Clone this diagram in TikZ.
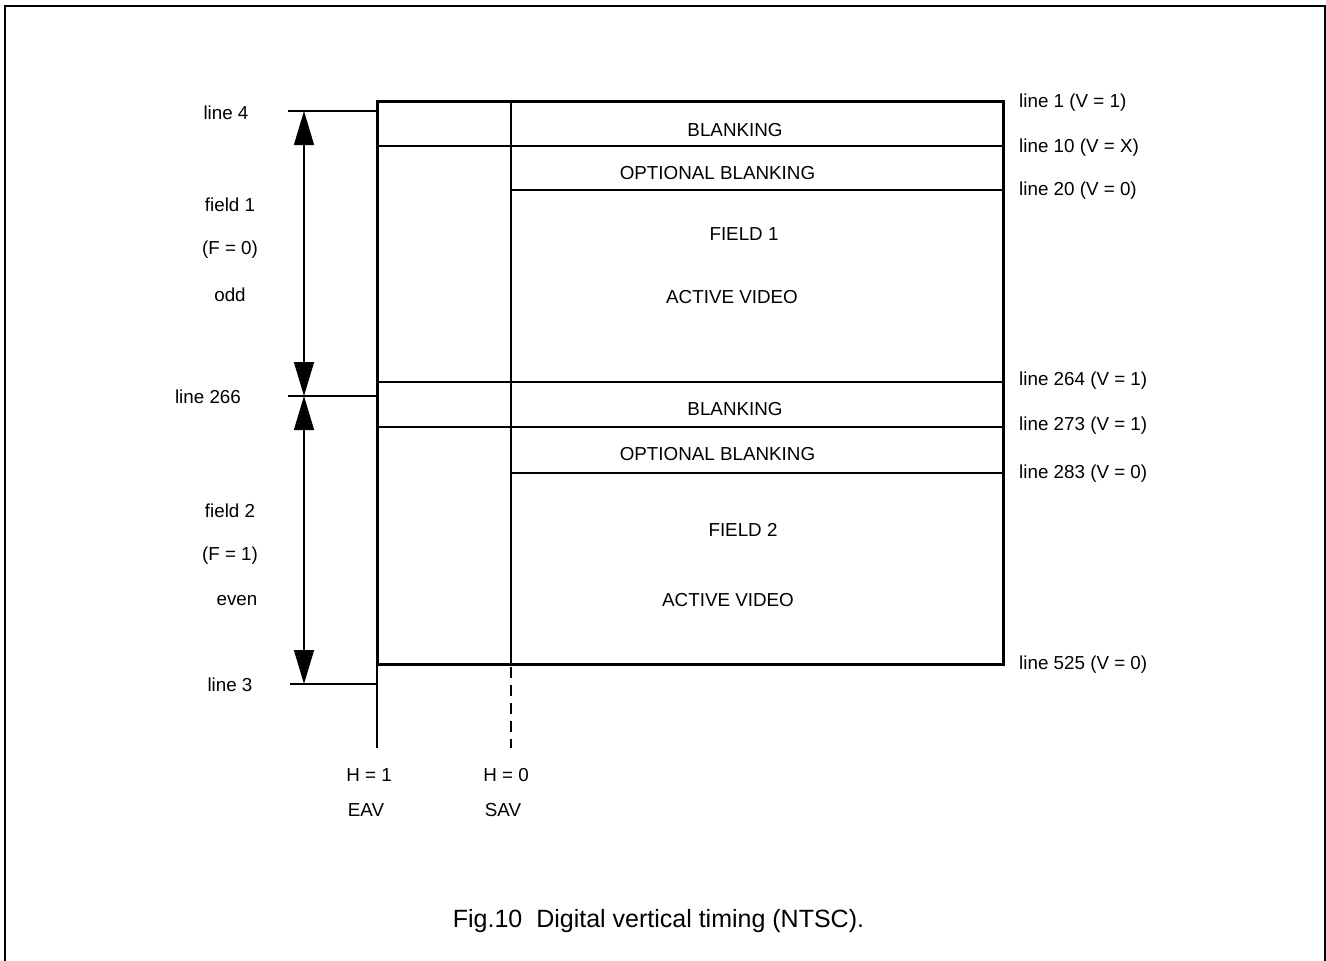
\documentclass[tikz,border=0pt]{standalone}
\usepackage{fontspec}
\setmainfont{Liberation Sans}
\usetikzlibrary{arrows.meta}

\tikzset{
  lbl/.style={font=\fontsize{18.8}{22}\selectfont, inner sep=0pt},
  rlbl/.style={lbl, anchor=west},
  thin line/.style={line width=1.3pt},
  dim arrow/.style={line width=1.3pt, {Triangle[length=34pt,width=20pt]}-{Triangle[length=34pt,width=20pt]}},
}

\begin{document}
\begin{tikzpicture}[x=1pt, y=-1pt]
\useasboundingbox (0,0) rectangle (1326,961);
% outer frame, open at the bottom
\draw[line width=2pt] (4.5,961) -- (4.5,6) -- (1325,6) -- (1325,961);

% corners of the timing box
\coordinate (tl) at (377,101);
\coordinate (tr) at (1003,101);
\coordinate (bl) at (377,664);
\coordinate (br) at (1003,664);
\coordinate (st) at (511,101);
\coordinate (sb) at (511,664);

% horizontal lines inside the box
\coordinate (b1l) at (377,146);  \coordinate (b1r) at (1003,146);
\coordinate (o1l) at (511,190);  \coordinate (o1r) at (1003,190);
\coordinate (b2l) at (377,382);  \coordinate (b2r) at (1003,382);
\coordinate (b3l) at (377,427);  \coordinate (b3r) at (1003,427);
\coordinate (o2l) at (511,473);  \coordinate (o2r) at (1003,473);
\draw[thin line] (b1l) -- (b1r);
\draw[thin line] (o1l) -- (o1r);
\draw[thin line] (b2l) -- (b2r);
\draw[thin line] (b3l) -- (b3r);
\draw[thin line] (o2l) -- (o2r);
\draw[thin line] (st) -- (sb);

% EAV / SAV markers below the box
\coordinate (eav) at (377,748);
\coordinate (sav) at (511,748);
\draw[thin line] (bl) -- (eav);
\draw[thin line, dash pattern=on 11pt off 7pt, dash phase=-3pt] (sb) -- (sav);

\draw[line width=3pt, line join=miter] (tl) rectangle (br);

% left reference lines
\coordinate (l4) at (288,111);   \coordinate (l4b) at (377,111);
\coordinate (l266) at (288,396); \coordinate (l266b) at (377,396);
\coordinate (l3) at (290,684);   \coordinate (l3b) at (377,684);
\draw[thin line] (l4) -- (l4b);
\draw[thin line] (l266) -- (l266b);
\draw[thin line] (l3) -- (l3b);

% field arrows
\coordinate (a1) at (304,111);
\coordinate (a2) at (304,396);
\coordinate (a3) at (304,684);
\draw[dim arrow] (a1) -- (a2);
\draw[dim arrow] (a2) -- (a3);

% left labels
\node[lbl] (line4) at (226,113) {line 4};
\node[lbl] (field1) at (230,205) {field 1};
\node[lbl] (f0) at (230,250) {(F = 0)};
\node[lbl] (odd) at (230,295) {odd};
\node[lbl] (line266) at (208,397) {line 266};
\node[lbl] (field2) at (230,511) {field 2};
\node[lbl] (f1) at (230,556) {(F = 1)};
\node[lbl] (even) at (237,601) {even};
\node[lbl] (line3) at (230,685) {line 3};

% right labels
\node[rlbl] (r1) at (1019,103) {line 1 (V = 1)};
\node[rlbl] (r10) at (1019,148) {line 10 (V = X)};
\node[rlbl] (r20) at (1019,191) {line 20 (V = 0)};
\node[rlbl] (r264) at (1019,381) {line 264 (V = 1)};
\node[rlbl] (r273) at (1019,426) {line 273 (V = 1)};
\node[rlbl] (r283) at (1019,474) {line 283 (V = 0)};
\node[rlbl] (r525) at (1019,665) {line 525 (V = 0)};

% box contents
\node[lbl] (blank1) at (735,130) {BLANKING};
\node[lbl] (opt1) at (717.5,173) {OPTIONAL BLANKING};
\node[lbl] (fld1) at (744,234) {FIELD 1};
\node[lbl] (act1) at (732,297) {ACTIVE VIDEO};
\node[lbl] (blank2) at (735,409) {BLANKING};
\node[lbl] (opt2) at (717.5,454) {OPTIONAL BLANKING};
\node[lbl] (fld2) at (743,530) {FIELD 2};
\node[lbl] (act2) at (728,600) {ACTIVE VIDEO};

% H labels
\node[lbl] (h1) at (369,775) {H = 1};
\node[lbl] (eavl) at (366,810) {EAV};
\node[lbl] (h0) at (506,775) {H = 0};
\node[lbl] (savl) at (503,810) {SAV};

% caption
\node[lbl, font=\fontsize{25}{30}\selectfont] (cap) at (658.5,921) {Fig.10\ \ Digital vertical timing (NTSC).};
\end{tikzpicture}
\end{document}
